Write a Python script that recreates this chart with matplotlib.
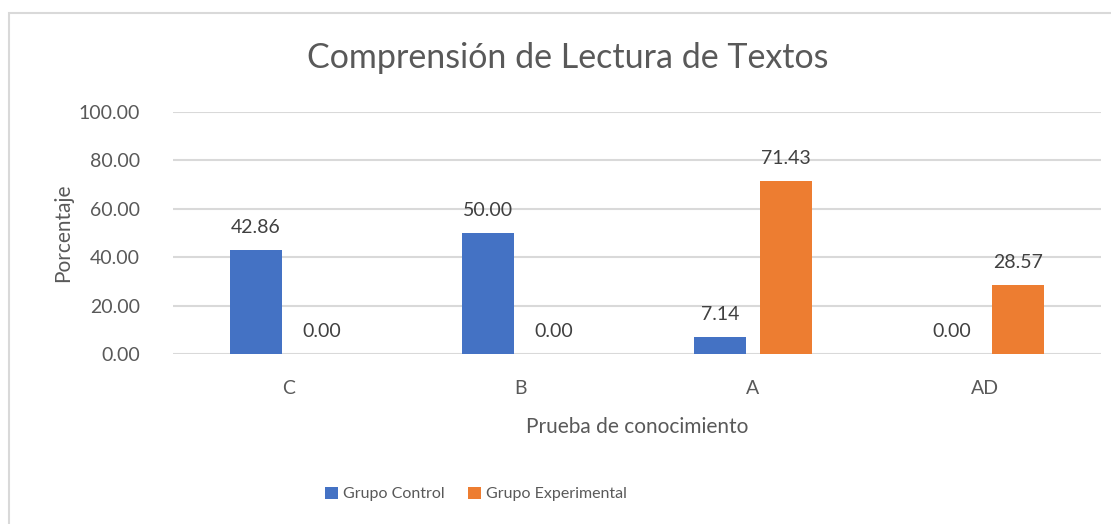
import numpy as np
import matplotlib.pyplot as plt
from matplotlib.patches import Rectangle

plt.rcParams['font.family'] = ['Lato', 'DejaVu Sans']

categorias = ['C', 'B', 'A', 'AD']
grupo_control = [42.86, 50.00, 7.14, 0.00]
grupo_experimental = [0.00, 0.00, 71.43, 28.57]
series = ['Grupo Control', 'Grupo Experimental']

azul = '#4472C4'
naranja = '#ED7D31'
gris_texto = '#595959'

fig = plt.figure(figsize=(11.11, 5.24), dpi=100)
ax = fig.add_axes([0.1557, 0.3244, 0.8353, 0.4618])

# marco del area del grafico (solo se ven el borde izquierdo y el superior)
fig.patches.append(Rectangle((9 / 1111, -0.1), 1.2, 1.1 - 13 / 524,
                             transform=fig.transFigure, fill=False,
                             edgecolor='#d9d9d9', linewidth=1.5))

x = np.arange(len(categorias))
ancho = 0.224
desp = 0.142

b1 = ax.bar(x - desp, grupo_control, ancho, color=azul, label=series[0], zorder=3)
b2 = ax.bar(x + desp, grupo_experimental, ancho, color=naranja, label=series[1], zorder=3)

for barras in (b1, b2):
    for r in barras:
        h = r.get_height()
        ax.annotate(f'{h:.2f}', (r.get_x() + r.get_width() / 2, h),
                    xytext=(0, 10), textcoords='offset points',
                    ha='center', va='bottom', fontsize=14, color='#404040')

ax.set_xlim(-0.5, len(categorias) - 0.5)
ax.set_ylim(0, 100)
ax.set_yticks(np.arange(0, 101, 20))
ax.set_yticklabels([f'{v:.2f}' for v in np.arange(0, 101, 20)])
ax.set_xticks(x)
ax.set_xticklabels(categorias)
ax.tick_params(length=0, labelsize=14, colors=gris_texto)
ax.tick_params(axis='x', pad=19)
ax.tick_params(axis='y', pad=24)
ax.grid(axis='y', color='#d9d9d9', linewidth=1.5, zorder=0)
for s in ax.spines.values():
    s.set_visible(False)

ax.set_xlabel('Prueba de conocimiento', fontsize=15, color=gris_texto, labelpad=14)
ax.set_ylabel('Porcentaje', fontsize=15, color=gris_texto, labelpad=4)

fig.text(568 / 1111, 1 - 58 / 524, 'Comprensión de Lectura de Textos',
         ha='center', va='center', fontsize=24.5, color=gris_texto)

fig.legend(loc='center', bbox_to_anchor=(476 / 1111, 1 - 494 / 524), ncol=2,
           frameon=False, fontsize=11.5, handlelength=0.8, handleheight=0.8,
           handletextpad=0.3, columnspacing=1.5, labelcolor=gris_texto)

fig.savefig('out.png', dpi=100)
